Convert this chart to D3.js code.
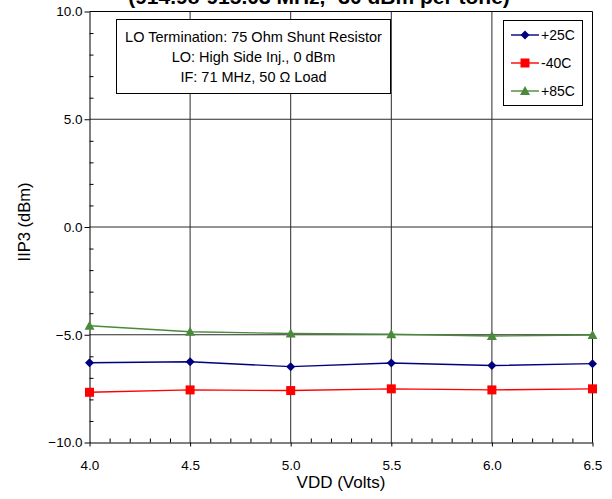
<!DOCTYPE html>
<html>
<head>
<meta charset="utf-8">
<script src="https://cdn.jsdelivr.net/npm/d3@7/dist/d3.min.js"></script>
<style>
  html, body { margin: 0; padding: 0; background: #fff; }
  svg { display: block; font-family: "Liberation Sans", Arial, Helvetica, sans-serif; }
</style>
</head>
<body>
<svg id="chart" width="612" height="499"></svg>
<script>
// IIP3 vs supply voltage at three temperatures
const vdd = [4.0, 4.5, 5.0, 5.5, 6.0, 6.5];
const iip3_25C = [-6.30, -6.25, -6.48, -6.31, -6.43, -6.34];
const iip3_m40C = [-7.67, -7.56, -7.59, -7.51, -7.56, -7.51];
const iip3_85C = [-4.58, -4.86, -4.94, -4.98, -5.06, -5.01];

const xTicks = [4.0, 4.5, 5.0, 5.5, 6.0, 6.5];
const yTicks = [-10, -5, 0, 5, 10];

const titleText = "(914.98-915.03 MHz, -30 dBm per tone)";
const noteLines = ["LO Termination: 75 Ohm Shunt Resistor", "LO: High Side Inj., 0 dBm", "IF: 71 MHz, 50 \u03A9 Load"];

const series = [
  { name: "+25C", values: iip3_25C, color: "#000080", marker: "diamond" },
  { name: "-40C", values: iip3_m40C, color: "#ff0000", marker: "square" },
  { name: "+85C", values: iip3_85C, color: "#4a8a3a", marker: "triangle" }
];

const svg = d3.select("#chart");
const m = { left: 89.5, right: 592.5, top: 11.5, bottom: 442.5 };

const x = d3.scaleLinear().domain([4.0, 6.5]).range([m.left, m.right]);
const y = d3.scaleLinear().domain([-10, 10]).range([m.bottom, m.top]);

// grid lines at major ticks
const grid = svg.append("g").attr("stroke", "#2a2a2a").attr("stroke-width", 1);
grid.selectAll("line.v").data(xTicks.slice(1, -1)).join("line")
  .attr("x1", d => x(d)).attr("x2", d => x(d))
  .attr("y1", m.top).attr("y2", m.bottom);
grid.selectAll("line.h").data(yTicks.slice(1, -1)).join("line")
  .attr("x1", m.left).attr("x2", m.right)
  .attr("y1", d => y(d)).attr("y2", d => y(d));

// plot frame (top and right edges)
svg.append("path")
  .attr("d", `M${m.left},${m.top}H${m.right}V${m.bottom}`)
  .attr("fill", "none").attr("stroke", "#000").attr("stroke-width", 1);

// minor ticks drawn inward
const xMinor = d3.range(4.0, 6.5001, 0.1).filter(v => Math.abs(v * 2 - Math.round(v * 2)) > 1e-6);
const yMinor = d3.range(-10, 10.001, 1).filter(v => v % 5 !== 0);
svg.append("g").attr("transform", `translate(0,${m.bottom})`)
  .call(d3.axisTop(x).tickValues(xMinor).tickSize(4).tickFormat(""))
  .call(g => g.select(".domain").remove());
svg.append("g").attr("transform", `translate(${m.left},0)`)
  .call(d3.axisRight(y).tickValues(yMinor).tickSize(4).tickFormat(""))
  .call(g => g.select(".domain").remove());

// main axes
const xAxis = svg.append("g").attr("transform", `translate(0,${m.bottom})`)
  .call(d3.axisBottom(x).tickValues(xTicks).tickSize(4).tickSizeOuter(0).tickPadding(14).tickFormat(d3.format(".1f")));
const yAxis = svg.append("g").attr("transform", `translate(${m.left},0)`)
  .call(d3.axisLeft(y).tickValues(yTicks).tickSize(5).tickSizeOuter(0).tickPadding(2).tickFormat(d3.format(".1f")));
[xAxis, yAxis].forEach(g => {
  g.selectAll("text").attr("font-size", 13.5).attr("fill", "#000").attr("font-family", "Liberation Sans, Arial, sans-serif");
  g.selectAll("line,path").attr("stroke", "#000");
});

// axis titles
svg.append("text").attr("x", 341).attr("y", 488)
  .attr("text-anchor", "middle").attr("font-size", 17).text("VDD (Volts)");
svg.append("text").attr("transform", `translate(30,${y(0) - 5}) rotate(-90)`)
  .attr("text-anchor", "middle").attr("font-size", 16.5).text("IIP3 (dBm)");

// chart subtitle, partly above the top edge
svg.append("text").attr("x", 319).attr("y", 4)
  .attr("text-anchor", "middle").attr("font-size", 21).attr("font-weight", "bold").text(titleText);

// marker shapes
function drawMarker(g, kind, color, cx, cy) {
  if (kind === "diamond") {
    g.append("path").attr("d", `M${cx},${cy - 4.5}L${cx + 4.5},${cy}L${cx},${cy + 4.5}L${cx - 4.5},${cy}Z`).attr("fill", color);
  } else if (kind === "square") {
    g.append("rect").attr("x", cx - 4.5).attr("y", cy - 4.5).attr("width", 9).attr("height", 9).attr("fill", color);
  } else {
    g.append("path").attr("d", `M${cx},${cy - 5}L${cx + 5},${cy + 4}L${cx - 5},${cy + 4}Z`).attr("fill", color);
  }
}

const line = d3.line().x((d, i) => x(vdd[i])).y(d => y(d));
series.forEach(s => {
  const g = svg.append("g");
  g.append("path").datum(s.values).attr("d", line)
    .attr("fill", "none").attr("stroke", s.color).attr("stroke-width", 1.4);
  s.values.forEach((v, i) => drawMarker(g, s.marker, s.color, x(vdd[i]), y(v)));
});

// condition note box
const note = svg.append("g");
note.append("rect").attr("x", 116.5).attr("y", 19.5).attr("width", 274).attr("height", 74)
  .attr("fill", "#fff").attr("stroke", "#000").attr("stroke-width", 1);
noteLines.forEach((t, i) => {
  note.append("text").attr("x", 253.5).attr("y", 42 + i * 20)
    .attr("text-anchor", "middle").attr("font-size", 14.5).text(t);
});

// legend
const leg = svg.append("g");
leg.append("rect").attr("x", 503.5).attr("y", 20.5).attr("width", 79).attr("height", 85)
  .attr("fill", "#fff").attr("stroke", "#000").attr("stroke-width", 1);
series.forEach((s, i) => {
  const cy = 35 + i * 28;
  leg.append("line").attr("x1", 511).attr("x2", 539).attr("y1", cy).attr("y2", cy)
    .attr("stroke", s.color).attr("stroke-width", 1.4);
  drawMarker(leg, s.marker, s.color, 525, cy);
  leg.append("text").attr("x", 541).attr("y", cy + 5).attr("font-size", 14).text(s.name);
});
</script>
</body>
</html>
